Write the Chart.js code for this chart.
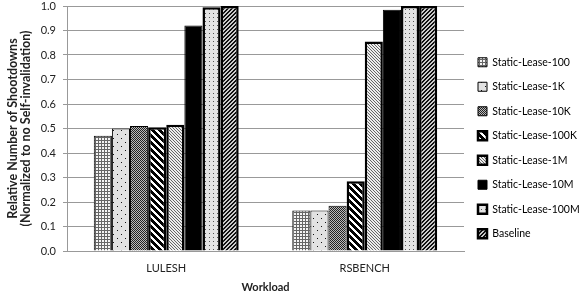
<!DOCTYPE html>
<html lang="en">
<head>
  <meta charset="UTF-8" />
  <title>Relative Number of Shootdowns</title>
  <script src="https://cdn.jsdelivr.net/npm/chart.js"></script>
  <style>
    html, body { margin: 0; padding: 0; background: #fff; }
    .wrap { width: 582px; height: 296px; }
  </style>
</head>
<body>
  <div class="wrap"><canvas id="chart" width="582" height="296"></canvas></div>

  <script>
    const workloads = ['LULESH', 'RSBENCH'];
    const seriesNames = ['Static-Lease-100', 'Static-Lease-1K', 'Static-Lease-10K', 'Static-Lease-100K',
                         'Static-Lease-1M', 'Static-Lease-10M', 'Static-Lease-100M', 'Baseline'];
    const lease100  = [0.47, 0.165];
    const lease1K   = [0.50, 0.165];
    const lease10K  = [0.51, 0.185];
    const lease100K = [0.505, 0.285];
    const lease1M   = [0.515, 0.855];
    const lease10M  = [0.92, 0.985];
    const lease100M = [0.995, 1.0];
    const baseline  = [1.0, 1.0];

    // small tiles for the fill patterns
    function tile(w, h, draw) {
      const c = document.createElement('canvas');
      c.width = w; c.height = h;
      const g = c.getContext('2d');
      draw(g);
      return document.getElementById('chart').getContext('2d').createPattern(c, 'repeat');
    }
    function px(g, color, pts) {
      g.fillStyle = color;
      pts.forEach(p => g.fillRect(p[0], p[1], 1, 1));
    }

    const patGrid = tile(3, 3, g => {
      g.fillStyle = '#f4f4f4'; g.fillRect(0, 0, 3, 3);
      g.fillStyle = '#666'; g.fillRect(0, 2, 3, 1); g.fillRect(2, 0, 1, 3);
    });
    const patSparse = tile(8, 8, g => {
      g.fillStyle = '#e2e2e2'; g.fillRect(0, 0, 8, 8);
      px(g, '#111', [[1, 2], [5, 6]]);
    });
    const patChecker = tile(2, 2, g => {
      g.fillStyle = '#bbb'; g.fillRect(0, 0, 2, 2);
      px(g, '#222', [[0, 0], [1, 1]]);
    });
    const patWide = tile(7, 7, g => {
      g.fillStyle = '#fff'; g.fillRect(0, 0, 7, 7);
      g.fillStyle = '#000';
      for (let y = 0; y < 7; y++) {
        for (let k = 0; k < 4; k++) g.fillRect((y + k) % 7, y, 1, 1);
      }
    });
    const patFine = tile(3, 3, g => {
      g.fillStyle = '#eee'; g.fillRect(0, 0, 3, 3);
      px(g, '#666', [[0, 0], [1, 1], [2, 2]]);
    });
    const patDots = tile(4, 4, g => {
      g.fillStyle = '#e4e4e4'; g.fillRect(0, 0, 4, 4);
      px(g, '#555', [[1, 1]]);
    });
    const patSlash = tile(4, 4, g => {
      g.fillStyle = '#ccc'; g.fillRect(0, 0, 4, 4);
      g.fillStyle = '#111';
      for (let y = 0; y < 4; y++) {
        g.fillRect((3 - y + 4) % 4, y, 1, 1);
        g.fillRect((4 - y + 4) % 4, y, 1, 1);
      }
    });

    const fills = [patGrid, patSparse, patChecker, patWide, patFine, '#000', patDots, patSlash];
    const borders = [1, 1, 1, 2.5, 2.5, 1, 2.5, 2.5];
    const values = [lease100, lease1K, lease10K, lease100K, lease1M, lease10M, lease100M, baseline];

    const font = "Lato, 'Open Sans', sans-serif";
    Chart.defaults.font.family = font;
    Chart.defaults.color = '#222';

    // keep the legend column at a fixed width, like the original
    const legendWidth = {
      id: 'legendWidth',
      beforeUpdate(chart) {
        const lg = chart.legend;
        if (lg && !lg._patched) {
          const fit = lg.fit;
          lg.fit = function () { fit.call(this); this.width = 118; };
          lg._patched = true;
        }
      }
    };

    new Chart(document.getElementById('chart'), {
      type: 'bar',
      data: {
        labels: workloads,
        datasets: seriesNames.map((name, i) => ({
          label: name,
          data: values[i],
          backgroundColor: fills[i],
          borderColor: '#000',
          borderWidth: borders[i],
          categoryPercentage: 0.73,
          barPercentage: 1.0,
          clip: false
        }))
      },
      options: {
        responsive: false,
        animation: false,
        layout: { padding: 0 },
        plugins: {
          tooltip: { enabled: false },
          legend: {
            position: 'right',
            align: 'center',
            labels: { boxWidth: 9, boxHeight: 9, padding: 14, font: { size: 10.5 }, color: '#000' }
          }
        },
        scales: {
          x: {
            afterFit: s => { s.height = 45; },
            grid: { display: false, drawTicks: false },
            border: { display: true, color: '#999' },
            ticks: { font: { size: 11 }, padding: 11 },
            title: { display: true, text: 'Workload', font: { size: 11, weight: 'bold' }, padding: { top: 5, bottom: 2 } }
          },
          y: {
            min: 0,
            max: 1,
            afterFit: s => { s.width = 67; s.paddingTop = 6; },
            ticks: { stepSize: 0.1, font: { size: 11 }, padding: 7, callback: v => v.toFixed(1) },
            grid: { color: '#999', tickLength: 4 },
            border: { display: true, color: '#999' },
            title: {
              display: true,
              text: ['Relative Number of Shootdowns', '(Normalized to no Self-invalidation)'],
              font: { size: 12.5, weight: 'bold', lineHeight: 1.0 },
              padding: { top: 7, bottom: 4 }
            }
          }
        }
      },
      plugins: [legendWidth]
    });
  </script>
</body>
</html>
